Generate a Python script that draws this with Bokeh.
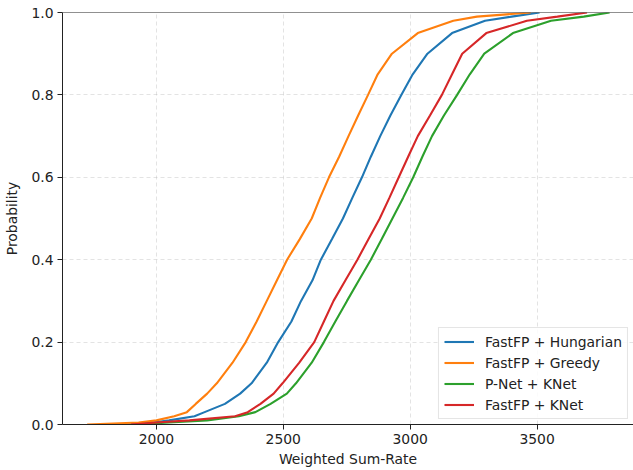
from bokeh.plotting import figure
from bokeh.models import FixedTicker, NumeralTickFormatter, Span, Legend, LegendItem, Range1d
from bokeh.embed import file_html
from bokeh.resources import INLINE

probs = [0.0, 0.005, 0.01, 0.02, 0.03, 0.05, 0.075, 0.1, 0.15, 0.2, 0.25, 0.3, 0.35,
         0.4, 0.45, 0.5, 0.55, 0.6, 0.65, 0.7, 0.75, 0.8, 0.85, 0.9, 0.95, 0.98, 0.99, 1.0]

rate_hungarian = [1880, 1990, 2050, 2150, 2190, 2270, 2330, 2375, 2435, 2480, 2532, 2570, 2615,
                  2648, 2692, 2735, 2772, 2810, 2845, 2882, 2922, 2965, 3010, 3068, 3165, 3295, 3400, 3510]
rate_greedy = [1727, 1930, 2000, 2070, 2120, 2155, 2200, 2238, 2300, 2352, 2395, 2435, 2475,
               2515, 2565, 2612, 2645, 2680, 2720, 2757, 2795, 2834, 2872, 2928, 3030, 3170, 3263, 3475]
rate_pnet_knet = [1920, 2050, 2200, 2325, 2390, 2450, 2514, 2550, 2612, 2660, 2705, 2751, 2798,
                  2845, 2888, 2930, 2972, 3012, 3048, 3086, 3133, 3185, 3235, 3292, 3405, 3555, 3684, 3786]
rate_fastfp_knet = [1900, 2000, 2130, 2310, 2360, 2410, 2462, 2497, 2563, 2622, 2660, 2698, 2745,
                    2792, 2836, 2880, 2918, 2955, 2992, 3030, 3078, 3125, 3165, 3205, 3300, 3460, 3580, 3697]

series_names = ["FastFP + Hungarian", "FastFP + Greedy", "P-Net + KNet", "FastFP + KNet"]
series_rates = [rate_hungarian, rate_greedy, rate_pnet_knet, rate_fastfp_knet]
series_colors = ["#1f77b4", "#ff7f0e", "#2ca02c", "#d62728"]

x_ticks = [2000, 2500, 3000, 3500]
y_ticks = [0.0, 0.2, 0.4, 0.6, 0.8, 1.0]

FONT = "DejaVu Sans"
FS = "13.9px"

p = figure(width=633, height=470, output_backend="svg", toolbar_location=None,
           x_range=Range1d(1630, 3880), y_range=Range1d(0, 1),
           min_border_left=62, min_border_right=0, min_border_top=12, min_border_bottom=46)
p.outline_line_color = None
p.background_fill_color = "white"

items = []
for name, rates, color in zip(series_names, series_rates, series_colors):
    r = p.line(x=rates, y=probs, line_color=color, line_width=2.1)
    items.append(LegendItem(label=name, renderers=[r]))

top_spine = Span(location=1.0, dimension="width", line_color="#222222", line_width=1)
p.add_layout(top_spine)

# grids
for g in (p.xgrid, p.ygrid):
    g.grid_line_color = "#b0b0b0"
    g.grid_line_alpha = 0.35
    g.grid_line_dash = "4 3"
    g.grid_line_width = 1
p.xgrid.ticker = FixedTicker(ticks=x_ticks)
p.ygrid.ticker = FixedTicker(ticks=y_ticks)

# axes
p.xaxis.ticker = FixedTicker(ticks=x_ticks)
p.yaxis.ticker = FixedTicker(ticks=y_ticks)
p.yaxis.formatter = NumeralTickFormatter(format="0.0")
p.xaxis.axis_label = "Weighted Sum-Rate"
p.yaxis.axis_label = "Probability"
for ax in (p.xaxis, p.yaxis):
    ax.axis_line_color = "#222222"
    ax.axis_line_width = 1
    ax.major_tick_line_color = "#222222"
    ax.major_tick_out = 5
    ax.major_tick_in = 0
    ax.minor_tick_line_color = None
    ax.major_label_standoff = 4
    ax.major_label_text_font = FONT
    ax.major_label_text_font_size = FS
    ax.major_label_text_color = "#222222"
    ax.axis_label_text_font = FONT
    ax.axis_label_text_font_size = FS
    ax.axis_label_text_font_style = "normal"
    ax.axis_label_text_color = "#222222"
p.yaxis.axis_label_standoff = 8
p.xaxis.axis_label_standoff = 4

legend = Legend(items=items, location="bottom_right")
legend.margin = 5
legend.padding = 5
legend.spacing = 4
legend.glyph_width = 30
legend.glyph_height = 17
legend.label_height = 17
legend.label_standoff = 11
legend.label_text_font = FONT
legend.label_text_font_size = FS
legend.label_text_color = "#222222"
legend.border_line_color = "#cccccc"
legend.border_line_width = 1
legend.background_fill_alpha = 0.85
p.add_layout(legend)

open("out.html", "w").write(file_html(p, INLINE))
